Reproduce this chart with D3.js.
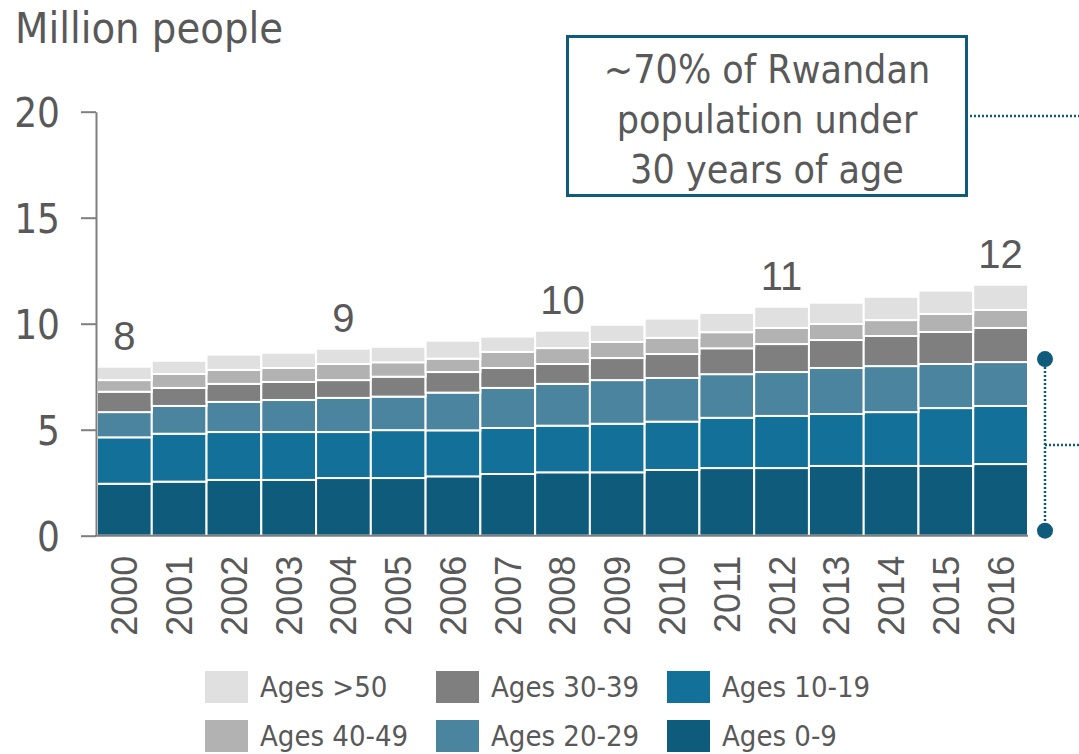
<!DOCTYPE html>
<html>
<head>
<meta charset="utf-8">
<script src="https://cdn.jsdelivr.net/npm/d3@7"></script>
<style>
  body { margin: 0; background: #fff; }
  svg { display: block; }
  .lbl { font-family: "DejaVu Sans Condensed", "DejaVu Sans", sans-serif; font-stretch: condensed; fill: #595959; }
  .num { font-family: "Liberation Sans", Arial, sans-serif; fill: #595959; }
</style>
</head>
<body>
<div class="chart"></div>
<script>
// data (million people, by age group)
var years = [2000, 2001, 2002, 2003, 2004, 2005, 2006, 2007, 2008, 2009, 2010, 2011, 2012, 2013, 2014, 2015, 2016];
var ages0to9   = [2.45, 2.55, 2.63, 2.63, 2.72, 2.72, 2.80, 2.91, 2.99, 2.99, 3.10, 3.19, 3.19, 3.29, 3.29, 3.29, 3.38];
var ages10to19 = [2.19, 2.26, 2.26, 2.26, 2.17, 2.26, 2.17, 2.17, 2.20, 2.29, 2.28, 2.37, 2.46, 2.45, 2.54, 2.73, 2.74];
var ages20to29 = [1.19, 1.31, 1.42, 1.51, 1.61, 1.58, 1.78, 1.89, 1.97, 2.06, 2.06, 2.06, 2.07, 2.17, 2.17, 2.08, 2.07];
var ages30to39 = [0.96, 0.85, 0.85, 0.85, 0.84, 0.94, 0.97, 0.94, 0.94, 1.04, 1.13, 1.22, 1.32, 1.32, 1.42, 1.51, 1.61];
var ages40to49 = [0.55, 0.66, 0.66, 0.66, 0.76, 0.68, 0.63, 0.76, 0.75, 0.76, 0.76, 0.76, 0.76, 0.76, 0.75, 0.85, 0.85];
var agesOver50 = [0.63, 0.62, 0.72, 0.72, 0.72, 0.73, 0.85, 0.72, 0.82, 0.81, 0.91, 0.91, 1.00, 1.00, 1.10, 1.10, 1.19];

var groups = ["Ages 0-9", "Ages 10-19", "Ages 20-29", "Ages 30-39", "Ages 40-49", "Ages >50"];
var groupValues = [ages0to9, ages10to19, ages20to29, ages30to39, ages40to49, agesOver50];
var colors = ["#0f5b7b", "#137199", "#4a849e", "#7f7f7f", "#b2b2b2", "#e0e0e0"];

var yTicks = [0, 5, 10, 15, 20];
var totalLabels = [
  {year: 2000, text: "8"},
  {year: 2004, text: "9"},
  {year: 2008, text: "10"},
  {year: 2012, text: "11"},
  {year: 2016, text: "12"}
];
var legendOrder = ["Ages >50", "Ages 30-39", "Ages 10-19", "Ages 40-49", "Ages 20-29", "Ages 0-9"];
var noteLines = ["~70% of Rwandan", "population under", "30 years of age"];
var bracketYear = 2016;
var bracketGroups = 3;

var W = 1079, H = 754;

var svg = d3.select(".chart")
  .append("svg")
  .attr("width", W)
  .attr("height", H);

// table for the stack
var table = years.map(function(yr, i) {
  var row = {year: yr};
  groups.forEach(function(g, k) { row[g] = groupValues[k][i]; });
  return row;
});
var series = d3.stack().keys(groups)(table);

// scales
var x = d3.scaleBand()
  .domain(years)
  .range([97, 1028])
  .padding(0);
var y = d3.scaleLinear()
  .domain([0, 20])
  .range([535.7, 111.7]);
var color = d3.scaleOrdinal().domain(groups).range(colors);

// bars
svg.append("g")
  .selectAll("g")
  .data(series)
  .enter()
  .append("g")
  .attr("fill", function(d) { return color(d.key); })
  .selectAll("rect")
  .data(function(d) { return d; })
  .enter()
  .append("rect")
  .attr("x", function(d) { return x(d.data.year); })
  .attr("y", function(d) { return y(d[1]); })
  .attr("width", x.bandwidth())
  .attr("height", function(d) { return y(d[0]) - y(d[1]); })
  .attr("stroke", "#fff")
  .attr("stroke-width", 2);

// y axis
var yAxis = svg.append("g")
  .attr("transform", "translate(96,0)")
  .call(d3.axisLeft(y).tickValues(yTicks).tickSize(15).tickSizeOuter(0).tickPadding(21));
yAxis.select(".domain").attr("stroke", "#7f7f7f").attr("stroke-width", 2);
yAxis.selectAll(".tick line").attr("stroke", "#7f7f7f").attr("stroke-width", 2);
yAxis.selectAll(".tick text")
  .attr("class", "lbl")
  .style("font-size", "40px")
  .attr("dy", "0.36em");

// x axis
var xAxis = svg.append("g")
  .attr("transform", "translate(0," + y(0) + ")")
  .call(d3.axisBottom(x).tickSize(0).tickSizeOuter(0));
xAxis.select(".domain").attr("stroke", "#7f7f7f").attr("stroke-width", 2).attr("d", "M95," + 0 + "H" + 1028);
xAxis.selectAll(".tick text")
  .attr("class", "num")
  .style("font-size", "36px")
  .attr("transform", "rotate(-90)")
  .attr("x", -20)
  .attr("y", 0)
  .attr("dy", "0.36em")
  .style("text-anchor", "end");

// totals above bars
var totalOf = function(yr) {
  var i = years.indexOf(yr);
  return d3.sum(groupValues, function(v) { return v[i]; });
};
svg.selectAll(".total")
  .data(totalLabels)
  .enter()
  .append("text")
  .attr("class", "num total")
  .attr("x", function(d) { return x(d.year) + x.bandwidth() / 2; })
  .attr("y", function(d) { return y(totalOf(d.year)) - 17; })
  .attr("text-anchor", "middle")
  .style("font-size", "40px")
  .text(function(d) { return d.text; });

// axis title
svg.append("text")
  .attr("class", "lbl")
  .attr("x", 15)
  .attr("y", 43)
  .style("font-size", "43px")
  .text("Million people");

// annotation box
svg.append("rect")
  .attr("x", 567.5)
  .attr("y", 36.5)
  .attr("width", 399)
  .attr("height", 159)
  .attr("fill", "#fff")
  .attr("stroke", "#0f5b7b")
  .attr("stroke-width", 3);

svg.selectAll(".note")
  .data(noteLines)
  .enter()
  .append("text")
  .attr("class", "lbl note")
  .attr("x", 767)
  .attr("y", function(d, i) { return 83 + i * 50; })
  .attr("text-anchor", "middle")
  .style("font-size", "39px")
  .text(function(d) { return d; });

var dotted = function(x1, y1, x2, y2) {
  svg.append("line")
    .attr("x1", x1).attr("y1", y1)
    .attr("x2", x2).attr("y2", y2)
    .attr("stroke", "#0f5b7b")
    .attr("stroke-width", 2.5)
    .attr("stroke-dasharray", "2,2");
};

dotted(970, 116, W, 116);

// bracket for under-30 share
var bi = years.indexOf(bracketYear);
var under30 = d3.sum(groupValues.slice(0, bracketGroups), function(v) { return v[bi]; });
var bx = x(bracketYear) + x.bandwidth() + 17;
var bTop = y(under30) - 3;
var bBot = y(0) - 5;
dotted(bx, bTop, bx, bBot);
dotted(bx, (bTop + bBot) / 2, W, (bTop + bBot) / 2);
svg.selectAll(".dot")
  .data([bTop, bBot])
  .enter()
  .append("circle")
  .attr("cx", bx)
  .attr("cy", function(d) { return d; })
  .attr("r", 8)
  .attr("fill", "#0f5b7b");

// legend
var legendX = [205, 436, 667];
var legendY = [671, 720];
var legend = svg.selectAll(".legend")
  .data(legendOrder)
  .enter()
  .append("g")
  .attr("transform", function(d, i) {
    return "translate(" + legendX[i % 3] + "," + legendY[Math.floor(i / 3)] + ")";
  });
legend.append("rect")
  .attr("width", 43)
  .attr("height", 32)
  .attr("fill", function(d) { return color(d); });
legend.append("text")
  .attr("class", "lbl")
  .attr("x", 55)
  .attr("y", 26)
  .style("font-size", "29px")
  .text(function(d) { return d; });
</script>
</body>
</html>
